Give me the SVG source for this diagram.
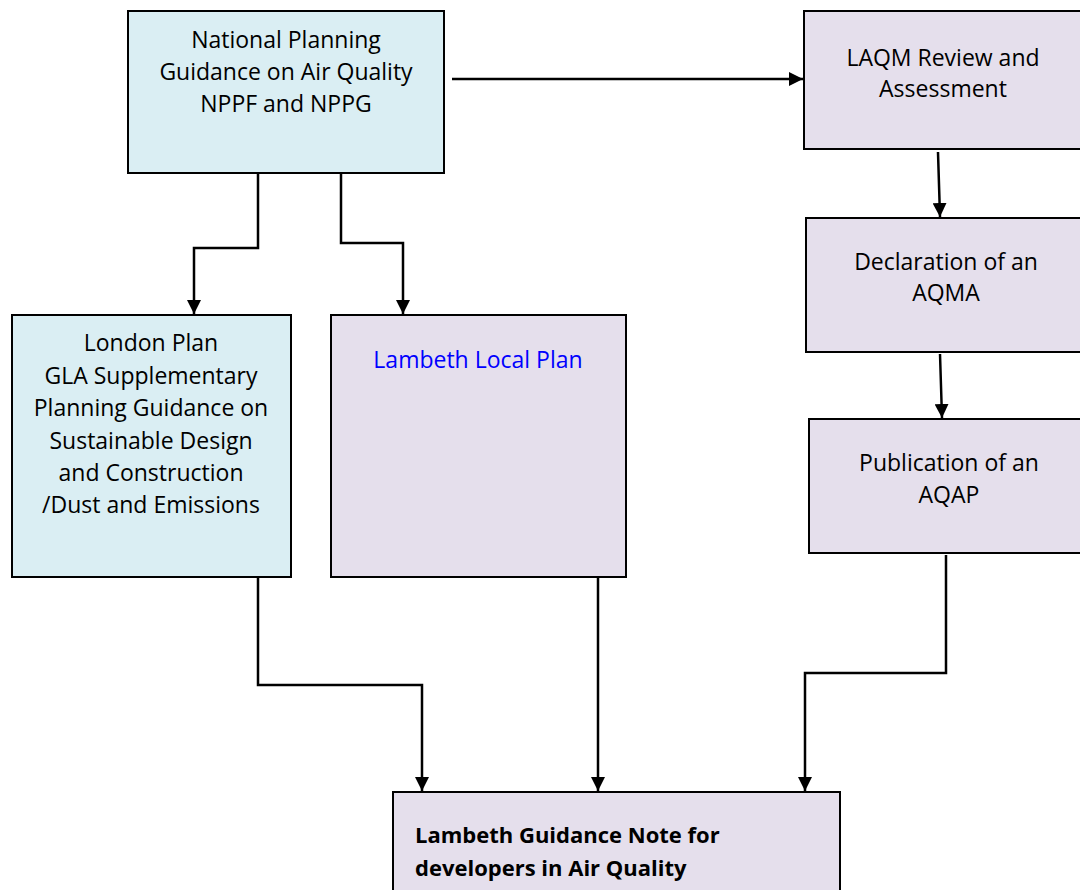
<svg xmlns="http://www.w3.org/2000/svg" width="1080" height="890" viewBox="0 0 1080 890">
<style>
.box{stroke:#000;stroke-width:2}
.blue{fill:#DAEEF3}
.purple{fill:#E5DFEC}
.t{font-family:"Open Sans",Lato,"Liberation Sans",sans-serif;font-size:23px;fill:#000;text-anchor:middle}
.b{font-family:"Open Sans",Lato,"Liberation Sans",sans-serif;font-size:22px;fill:#000;font-weight:bold}
.c{fill:none;stroke:#000;stroke-width:2.5}
</style>
<defs>
<marker id="ah" viewBox="0 0 10 10" refX="10" refY="5" markerWidth="5.6" markerHeight="5.6" orient="auto" markerUnits="strokeWidth">
<path d="M0,0 L10,5 L0,10 Z" fill="#000"/>
</marker>
</defs>
<rect width="1080" height="890" fill="#fff"/>
<g id="connectors">
<path class="c" d="M452,79 H803" marker-end="url(#ah)"/>
<path class="c" d="M258,173 V248 H194 V314" marker-end="url(#ah)"/>
<path class="c" d="M341,173 V243 H403 V314" marker-end="url(#ah)"/>
<path class="c" d="M938,152 L940,217" marker-end="url(#ah)"/>
<path class="c" d="M940,354 L942,418" marker-end="url(#ah)"/>
<path class="c" d="M258,577 V685 H422 V791" marker-end="url(#ah)"/>
<path class="c" d="M598,577 V791" marker-end="url(#ah)"/>
<path class="c" d="M946,555 V673 H805 V791" marker-end="url(#ah)"/>
</g>
<g id="national">
<rect class="box blue" x="128" y="11" width="316" height="162"/>
<text class="t" x="286" y="48">National Planning</text>
<text class="t" x="286" y="80">Guidance on Air Quality</text>
<text class="t" x="286" y="112">NPPF and NPPG</text>
</g>
<g id="laqm">
<rect class="box purple" x="804" y="11" width="290" height="138"/>
<text class="t" x="943" y="66">LAQM Review and</text>
<text class="t" x="943" y="97">Assessment</text>
</g>
<g id="declaration">
<rect class="box purple" x="806" y="218" width="290" height="134"/>
<text class="t" x="946" y="270">Declaration of an</text>
<text class="t" x="946" y="301">AQMA</text>
</g>
<g id="publication">
<rect class="box purple" x="809" y="419" width="290" height="134"/>
<text class="t" x="949" y="471">Publication of an</text>
<text class="t" x="949" y="503">AQAP</text>
</g>
<g id="london">
<rect class="box blue" x="12" y="315" width="279" height="262"/>
<text class="t" x="151" y="351">London Plan</text>
<text class="t" x="151" y="384">GLA Supplementary</text>
<text class="t" x="151" y="416">Planning Guidance on</text>
<text class="t" x="151" y="449">Sustainable Design</text>
<text class="t" x="151" y="481">and Construction</text>
<text class="t" x="151" y="513">/Dust and Emissions</text>
</g>
<g id="lambeth-local">
<rect class="box purple" x="331" y="315" width="295" height="262"/>
<text class="t" x="478" y="368" style="fill:#0000FF">Lambeth Local Plan</text>
</g>
<g id="guidance-note">
<rect class="box purple" x="393" y="792" width="447" height="110"/>
<text class="b" x="415" y="843">Lambeth Guidance Note for</text>
<text class="b" x="415" y="876">developers in Air Quality</text>
</g>
</svg>
